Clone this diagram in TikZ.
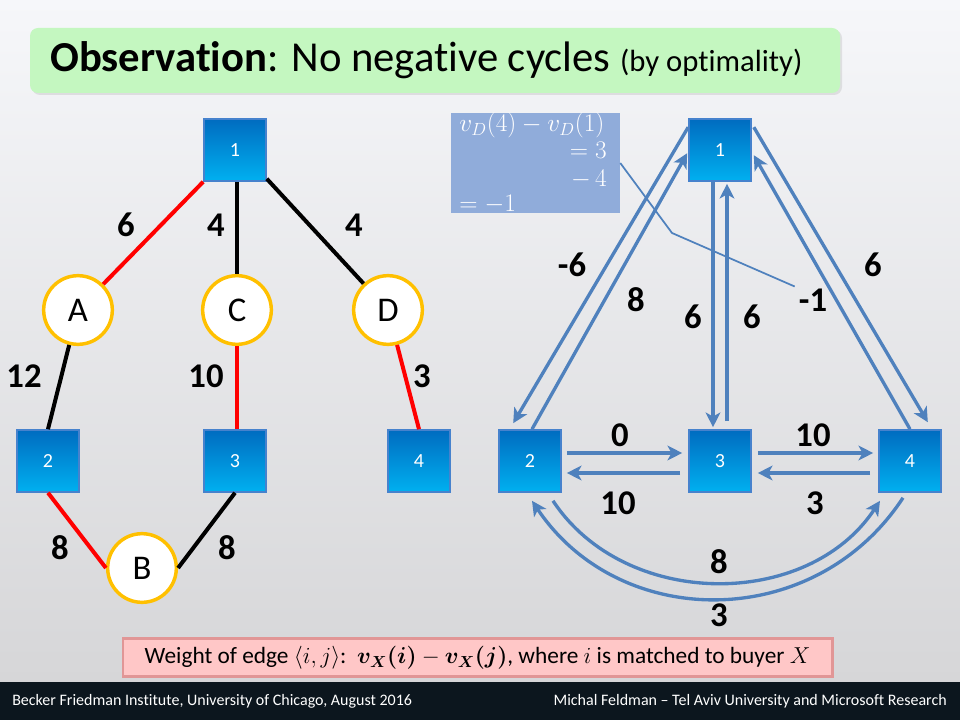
\documentclass[tikz,border=0pt]{standalone}
\usepackage{amsmath}
\usepackage{fontspec}
\setmainfont[Ligatures=NoCommon]{Carlito}
\usetikzlibrary{calc,arrows.meta,shadows}
\definecolor{bgtop}{RGB}{246,247,250}
\definecolor{bgbot}{RGB}{214,214,216}
\definecolor{sqtop}{RGB}{0,108,192}
\definecolor{sqbot}{RGB}{0,176,240}
\definecolor{sqedge}{RGB}{70,130,205}
\definecolor{gold}{RGB}{255,192,0}
\definecolor{arrblue}{RGB}{79,129,189}
\definecolor{titlegreen}{RGB}{196,247,192}
\definecolor{calfill}{RGB}{144,172,218}
\definecolor{pinkfill}{RGB}{255,199,199}
\definecolor{pinkedge}{RGB}{225,150,150}
\definecolor{footer}{RGB}{12,22,30}
\newcommand{\calmath}[1]{\scalebox{1.1}{$#1$}}
\begin{document}
\begin{tikzpicture}[x=0.75pt,y=-0.75pt,
  sq/.style={rectangle,minimum size=46.5pt,inner sep=0pt,top color=sqtop,bottom color=sqbot,draw=sqedge,line width=1.2pt,text=white,font=\fontsize{15}{17}\selectfont},
  buyer/.style={circle,minimum size=51.5pt,inner sep=0pt,fill=white,draw=gold,line width=2.6pt,font=\fontsize{26}{28}\selectfont},
  redge/.style={draw=red,line width=3pt},
  bedge/.style={draw=black,line width=3pt},
  wlab/.style={font=\fontsize{26}{30}\selectfont\bfseries,inner sep=0pt},
  arr/.style={draw=arrblue,line width=2.5pt,-{Stealth[length=11pt,width=11pt,inset=3pt]}},
  calt/.style={text=white,inner sep=0pt,font=\fontsize{17.28}{20}\selectfont},
]
\useasboundingbox (0,0) rectangle (960,720);
% background
\shade[top color=bgtop,bottom color=bgbot] (0,0) rectangle (960,682);
\fill[footer] (0,682) rectangle (960,720);
% title
\node[rounded corners=6pt,fill=titlegreen,minimum width=607.5pt,minimum height=48.75pt,inner sep=0pt,
      drop shadow={opacity=0.18,shadow xshift=1.5pt,shadow yshift=-1.5pt}] (title) at (435,60.5) {};
\node[anchor=west,inner sep=0pt] (titletext) at (50,60) {\fontsize{32}{36}\selectfont\textbf{Observation}: No negative cycles {\fontsize{23}{26}\selectfont(by optimality)}};

% ---------- left graph ----------
\node[sq] (l1) at (235,150) {1};
\node[buyer] (lA) at (78,310) {A};
\node[buyer] (lC) at (237,310) {C};
\node[buyer] (lD) at (388,310) {D};
\node[sq] (l2) at (48,461) {2};
\node[sq] (l3) at (235,461) {3};
\node[sq] (l4) at (419,461) {4};
\node[buyer] (lB) at (142,568) {B};
\draw[redge] (l1.south west) -- (lA);
\draw[bedge] ($(l1.south)+(2,0)$) -- (lC);
\draw[bedge] ($(l1.south east)+(0,-3)$) -- (lD);
\draw[bedge] (lA) -- (l2.north);
\draw[redge] (lC) -- ($(l3.north)+(2,0)$);
\draw[redge] (lD) -- (l4.north);
\draw[redge] (l2.south) -- (lB.west);
\draw[bedge] (lB.east) -- (l3.south);
\node[wlab] (w1A) at (126,225) {6};
\node[wlab] (w1C) at (216,225) {4};
\node[wlab] (w1D) at (354,225) {4};
\node[wlab] (wA2) at (24,376) {12};
\node[wlab] (wC3) at (206,376) {10};
\node[wlab] (wD4) at (422,376) {3};
\node[wlab] (w2B) at (60,548) {8};
\node[wlab] (wB3) at (227,548) {8};

% ---------- callout ----------
\node[fill=calfill,minimum width=126.75pt,minimum height=75pt,inner sep=0pt] (calbox) at (535.5,163) {};
\node[calt,anchor=west] (cal1) at (459,125) {\calmath{v_D(4)-v_D(1)}};
\node[calt,anchor=east] (cal2) at (607,150) {\calmath{=3}};
\node[calt,anchor=east] (cal3) at (607,179) {\calmath{-\,4}};
\node[calt,anchor=west] (cal4) at (459,204) {\calmath{=-1}};

% ---------- right graph ----------
\node[sq] (r1) at (720,150) {1};
\node[sq] (r2) at (530,461) {2};
\node[sq] (r3) at (720,461) {3};
\node[sq] (r4) at (910,461) {4};
\node[wlab] (lm6) at (572,265) {-6};
\node[wlab] (l8a) at (636,300) {8};
\node[wlab] (l6a) at (693,317) {6};
\node[wlab] (l6b) at (752,317) {6};
\node[wlab] (lm1) at (813,300) {-1};
\node[wlab] (l6c) at (873,265) {6};
\node[wlab] (l0) at (620,435) {0};
\node[wlab] (l10a) at (813,435) {10};
\node[wlab] (l10b) at (618,503) {10};
\node[wlab] (l3a) at (815,503) {3};
\node[wlab] (l8b) at (719,562) {8};
\node[wlab] (l3b) at (719,615) {3};

\coordinate (bend) at (672,233);
\draw[arrblue,line width=1.3pt] (calbox.east) -- (bend) -- ($(lm1.north west)+(-4,-2)$);

\draw[arr] ($(r1.north west)+(0,9)$) -- ($(r2.north west)+(15,-6)$);
\draw[arr] ($(r2.north)+(2,0)$) -- ($(r1.north west)+(-1,35)$);
\draw[arr] ($(r1.south)+(-7,0)$) -- ($(r3.north)+(-7,-2)$);
\draw[arr] ($(r3.north)+(7,-8)$) -- ($(r1.south)+(7,2)$);
\draw[arr] ($(r1.north east)+(2,9)$) -- ($(r4.north east)+(-14,-7)$);
\draw[arr] (r4.north) -- ($(r1.north east)+(2,37)$);
\draw[arr] ($(r2.east)+(5,-8)$) -- ($(r3.west)+(-6,-8)$);
\draw[arr] ($(r3.west)+(-8,12)$) -- ($(r2.east)+(5,12)$);
\draw[arr] ($(r3.east)+(6,-8)$) -- ($(r4.west)+(-5,-8)$);
\draw[arr] ($(r4.west)+(-8,12)$) -- ($(r3.east)+(6,12)$);
\draw[arr] ($(r2.south)+(23,8)$) .. controls (625,610) and (808,610) .. ($(r4.south)+(-30,8)$);
\draw[arr] ($(r4.south)+(-7,5)$) .. controls (815,632) and (620,632) .. ($(r2.south)+(2,8)$);

% ---------- bottom box ----------
\node[fill=pinkfill,draw=pinkedge,line width=2pt,minimum width=532pt,minimum height=28.5pt,inner sep=0pt] (defbox) at (477.5,657.5) {};
\node[inner sep=0pt] (deftext) at (477.5,658) {\fontsize{17.5}{21}\selectfont Weight of edge $\langle i,j\rangle$:\ \ $\boldsymbol{v_X(i)}-\boldsymbol{v_X(j)}$, where $i$ is matched to buyer $X$};

% ---------- footer ----------
\node[anchor=west,text=white,inner sep=0pt] (footl) at (12,701) {\fontsize{12}{14}\selectfont Becker Friedman Institute, University of Chicago, August 2016};
\node[anchor=east,text=white,inner sep=0pt] (footr) at (947,701) {\fontsize{12}{14}\selectfont Michal Feldman -- Tel Aviv University and Microsoft Research};
\end{tikzpicture}
\end{document}
